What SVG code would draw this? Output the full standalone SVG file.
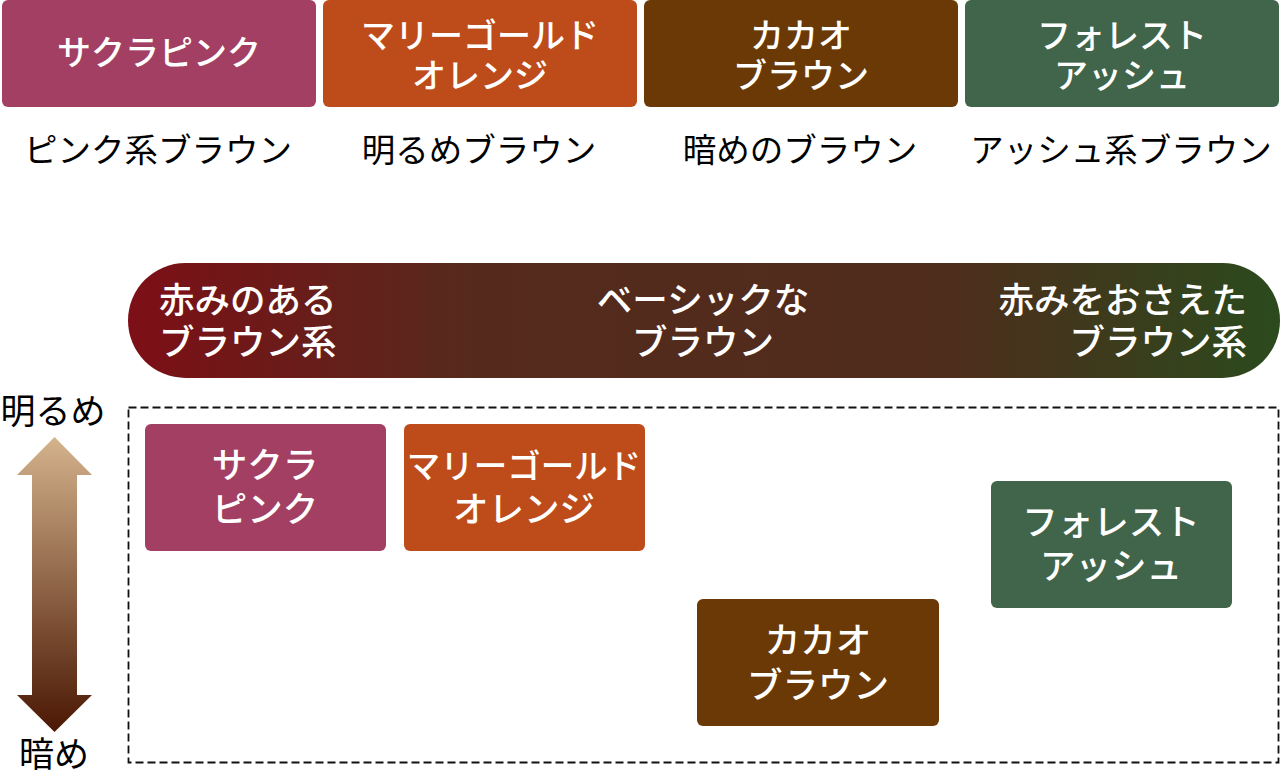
<svg xmlns="http://www.w3.org/2000/svg" width="1280" height="782" viewBox="0 0 1280 782">
<style>
.w{fill:#ffffff;font-family:"Noto Sans CJK JP","Noto Sans",sans-serif;font-weight:500;font-size:34px;text-anchor:middle}
.wl{fill:#ffffff;font-family:"Noto Sans CJK JP","Noto Sans",sans-serif;font-weight:500;font-size:35.5px}
.wb{fill:#ffffff;font-family:"Noto Sans CJK JP","Noto Sans",sans-serif;font-weight:500;font-size:35.5px;text-anchor:middle}
.k{fill:#000000;font-family:"Noto Sans CJK JP","Noto Sans",sans-serif;font-weight:400;font-size:33.5px;text-anchor:middle}
.pink{fill:#a33f62}
.orange{fill:#bd4c1a}
.cacao{fill:#6a3906}
.forest{fill:#41654a}
</style>
<defs>
<linearGradient id="bar" x1="0" y1="0" x2="1" y2="0">
<stop offset="0" stop-color="#7d0f17"/>
<stop offset="0.3" stop-color="#552a1c"/>
<stop offset="0.7" stop-color="#4f2c1c"/>
<stop offset="1" stop-color="#2b4a1d"/>
</linearGradient>
<linearGradient id="arr" x1="0" y1="0" x2="0" y2="1">
<stop offset="0" stop-color="#d4b38c"/>
<stop offset="1" stop-color="#4a1703"/>
</linearGradient>
</defs>
<g id="top-sakura"><rect class="pink" x="2" y="0" width="314" height="107" rx="6"/><text class="w" x="159" y="65">サクラピンク</text><text class="k" x="158" y="162">ピンク系ブラウン</text></g>
<g id="top-marigold"><rect class="orange" x="323" y="0" width="314" height="107" rx="6"/><text class="w" x="480" y="48">マリーゴールド</text><text class="w" x="480" y="88">オレンジ</text><text class="k" x="479" y="162">明るめブラウン</text></g>
<g id="top-cacao"><rect class="cacao" x="644" y="0" width="314" height="107" rx="6"/><text class="w" x="801" y="48">カカオ</text><text class="w" x="801" y="88">ブラウン</text><text class="k" x="800" y="162">暗めのブラウン</text></g>
<g id="top-forest"><rect class="forest" x="965" y="0" width="314" height="107" rx="6"/><text class="w" x="1122" y="48">フォレスト</text><text class="w" x="1122" y="88">アッシュ</text><text class="k" x="1121" y="162">アッシュ系ブラウン</text></g>
<g id="bar-group"><rect x="128" y="263" width="1152" height="115" rx="57.5" fill="url(#bar)"/>
<text class="wl" x="159" y="313">赤みのある</text><text class="wl" x="159" y="355">ブラウン系</text>
<text class="wl" x="703" y="313" text-anchor="middle">ベーシックな</text><text class="wl" x="703" y="355" text-anchor="middle">ブラウン</text>
<text class="wl" x="1247" y="313" text-anchor="end">赤みをおさえた</text><text class="wl" x="1247" y="355" text-anchor="end">ブラウン系</text></g>
<g id="axis"><text class="k" x="53" y="424" style="font-size:35px">明るめ</text><text class="k" x="54" y="767" style="font-size:35px">暗め</text>
<path d="M54.5 437 L92 475 L77 475 L77 695 L92 695 L54.5 732 L17 695 L32 695 L32 475 L17 475 Z" fill="url(#arr)"/></g>
<g id="connectors"><rect x="128.5" y="407.5" width="1150" height="355" fill="none" stroke="#111" stroke-width="1.8" stroke-dasharray="8,4"/></g>
<g id="sakura"><rect class="pink" x="145" y="424" width="241" height="127" rx="6"/><text class="wb" x="265" y="478">サクラ</text><text class="wb" x="265" y="522">ピンク</text></g>
<g id="marigold"><rect class="orange" x="404" y="424" width="241" height="127" rx="6"/><text class="wb" x="524" y="478" style="font-size:33.5px">マリーゴールド</text><text class="wb" x="524" y="522">オレンジ</text></g>
<g id="forest"><rect class="forest" x="991" y="481" width="241" height="127" rx="6"/><text class="wb" x="1111" y="535">フォレスト</text><text class="wb" x="1111" y="579">アッシュ</text></g>
<g id="cacao"><rect class="cacao" x="697" y="599" width="242" height="127" rx="6"/><text class="wb" x="818" y="653">カカオ</text><text class="wb" x="818" y="698">ブラウン</text></g>
</svg>
